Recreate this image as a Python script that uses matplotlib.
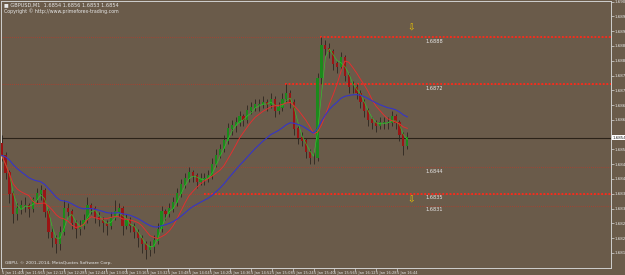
import numpy as np
import pandas as pd
import matplotlib
matplotlib.use('Agg')
import matplotlib.pyplot as plt

# GBPUSD M1 candles (sampled every 3 minutes from 5 Jan 11:40)
closes = [
    1.6848, 1.6842, 1.6835, 1.6828, 1.6830, 1.6831, 1.6831, 1.6830, 1.6833, 1.6835,
    1.6836, 1.6829, 1.6822, 1.6820, 1.6818, 1.6822, 1.6830, 1.6829, 1.6825, 1.6823,
    1.6824, 1.6826, 1.6831, 1.6830, 1.6827, 1.6826, 1.6825, 1.6824, 1.6827, 1.6829,
    1.6830, 1.6824, 1.6826, 1.6824, 1.6822, 1.6820, 1.6818, 1.6816, 1.6817, 1.6819,
    1.6823, 1.6829, 1.6828, 1.6830, 1.6832, 1.6835, 1.6838, 1.6840, 1.6842, 1.6841,
    1.6839, 1.6840, 1.6840, 1.6841, 1.6845, 1.6848, 1.6850, 1.6853, 1.6857, 1.6858,
    1.6859, 1.6861, 1.6860, 1.6863, 1.6864, 1.6865, 1.6865, 1.6866, 1.6865, 1.6867,
    1.6863, 1.6864, 1.6867, 1.6869, 1.6866, 1.6857, 1.6854, 1.6853, 1.6849, 1.6847,
    1.6847, 1.6874, 1.6885, 1.6884, 1.6883, 1.6879, 1.6878, 1.6881, 1.6875, 1.6871,
    1.6871, 1.6869, 1.6866, 1.6863, 1.6860, 1.6859, 1.6858, 1.6859, 1.6859, 1.6859,
    1.6861, 1.6859, 1.6855, 1.6851, 1.6854,
]
highs = [
    1.6855, 1.6849, 1.6843, 1.6836, 1.6832, 1.6833, 1.6834, 1.6832, 1.6834, 1.6837,
    1.6838, 1.6837, 1.6830, 1.6824, 1.6821, 1.6824, 1.6833, 1.6832, 1.6830, 1.6826,
    1.6826, 1.6828, 1.6834, 1.6832, 1.6831, 1.6829, 1.6827, 1.6826, 1.6829, 1.6833,
    1.6832, 1.6831, 1.6828, 1.6827, 1.6825, 1.6823, 1.6821, 1.6819, 1.6819, 1.6821,
    1.6825, 1.6831, 1.6830, 1.6832, 1.6834, 1.6837, 1.6840, 1.6842, 1.6844, 1.6843,
    1.6842, 1.6842, 1.6842, 1.6843, 1.6847, 1.6850, 1.6852, 1.6855, 1.6859, 1.6860,
    1.6861, 1.6863, 1.6862, 1.6865, 1.6866, 1.6867, 1.6867, 1.6868, 1.6867, 1.6869,
    1.6868, 1.6866, 1.6869, 1.6872, 1.6870, 1.6867, 1.6858, 1.6856, 1.6854, 1.6850,
    1.6849, 1.6876, 1.6888, 1.6887, 1.6886, 1.6884, 1.6880, 1.6883, 1.6882, 1.6876,
    1.6873, 1.6872, 1.6870, 1.6867, 1.6864, 1.6861, 1.6860, 1.6861, 1.6861, 1.6861,
    1.6863, 1.6862, 1.6860, 1.6856, 1.6856,
]
lows = [
    1.6846, 1.6840, 1.6832, 1.6825, 1.6826, 1.6828, 1.6829, 1.6827, 1.6829, 1.6832,
    1.6833, 1.6827, 1.6820, 1.6817, 1.6815, 1.6816, 1.6821, 1.6827, 1.6823, 1.6820,
    1.6821, 1.6823, 1.6825, 1.6828, 1.6825, 1.6824, 1.6822, 1.6821, 1.6823, 1.6826,
    1.6827, 1.6821, 1.6823, 1.6822, 1.6820, 1.6817, 1.6815, 1.6813, 1.6814, 1.6815,
    1.6818, 1.6822, 1.6826, 1.6827, 1.6829, 1.6831, 1.6834, 1.6837, 1.6839, 1.6839,
    1.6837, 1.6838, 1.6838, 1.6839, 1.6840, 1.6844, 1.6847, 1.6849, 1.6852, 1.6855,
    1.6856, 1.6858, 1.6858, 1.6859, 1.6862, 1.6863, 1.6863, 1.6864, 1.6863, 1.6864,
    1.6861, 1.6862, 1.6863, 1.6866, 1.6864, 1.6855, 1.6852, 1.6851, 1.6847, 1.6845,
    1.6845, 1.6846, 1.6872, 1.6882, 1.6881, 1.6877, 1.6876, 1.6877, 1.6873, 1.6869,
    1.6869, 1.6867, 1.6864, 1.6861, 1.6858, 1.6857, 1.6856, 1.6857, 1.6857, 1.6857,
    1.6858, 1.6857, 1.6853, 1.6848, 1.6850,
]
first_open = 1.6852
opens = [first_open] + closes[:-1]
bar_minutes = 3

time_labels = ['5 Jan 11:40', '5 Jan 11:56', '5 Jan 12:12', '5 Jan 12:28', '5 Jan 12:44',
               '5 Jan 13:00', '5 Jan 13:16', '5 Jan 13:32', '5 Jan 13:48', '5 Jan 14:04',
               '5 Jan 14:20', '5 Jan 14:36', '5 Jan 14:52', '5 Jan 15:08', '5 Jan 15:24',
               '5 Jan 15:40', '5 Jan 15:56', '5 Jan 16:12', '5 Jan 16:28', '5 Jan 16:44']
label_step = 16

price_ticks = [1.6815, 1.6820, 1.6825, 1.6830, 1.6835, 1.6840, 1.6845, 1.6850,
               1.6860, 1.6865, 1.6870, 1.6875, 1.6880, 1.6885, 1.6890, 1.6895, 1.6900]

levels = [1.6888, 1.6872, 1.6844, 1.6835, 1.6831]
level_labels = ['1.6888', '1.6872', '1.6844', '1.6835', '1.6831']
strong_levels = [1.6888, 1.6872, 1.6835]
strong_start = [245, 218, 156]   # minute where the zone line starts

arrow_prices = [1.6891, 1.6833]
current_price = 1.6854

BG = '#6a5b4a'
FG = '#e6e6e6'

t = np.arange(len(closes)) * bar_minutes
s = pd.Series(closes)
ma_fast = s.rolling(3, min_periods=1).mean()
ma_red = s.rolling(8, min_periods=1).mean()
ma_blue = s.ewm(span=22, adjust=False).mean()

fig = plt.figure(figsize=(6.25, 2.75), dpi=100, facecolor=BG)
ax = fig.add_axes([0.0016, 0.0255, 0.976, 0.9709], facecolor=BG)

# level lines
for lv in levels:
    ax.axhline(lv, color='#b83a2a', lw=0.6, ls=(0, (1, 1.5)), zorder=1)
for lv, st in zip(strong_levels, strong_start):
    ax.hlines(lv, st, 480, color='#ff2a1a', lw=1.3, ls=(0, (1, 1)), zorder=1)

ax.axhline(current_price, color='#2b2218', lw=0.8, zorder=1)

# candles
o = np.array(opens)
c = np.array(closes)
up = c >= o
ax.vlines(t, lows, highs, color='#2c2620', lw=0.6, zorder=2)
ax.bar(t[up], (c - o)[up] + 0.00002, bottom=o[up], width=1.7, color='#1c8a1c', zorder=3)
ax.bar(t[~up], (o - c)[~up] + 0.00002, bottom=c[~up], width=1.7, color='#9a1414', zorder=3)

ax.plot(t, ma_fast, color='#2ccc2c', lw=0.45, zorder=4)
ax.plot(t, ma_red, color='#e03030', lw=0.7, zorder=4)
ax.plot(t, ma_blue, color='#3535c8', lw=0.8, zorder=4)

# labels of levels and arrows
for lv, txt in zip(levels, level_labels):
    ax.annotate(txt, (333, lv), xytext=(0, -1.2), textcoords='offset points',
                ha='center', va='top', fontsize=3.6, color=FG)
for p in arrow_prices:
    ax.text(315, p, '\u21e9', ha='center', va='center', fontsize=6.5, color='#f0c800')

ax.set_xlim(-0.5, 468.7)
ax.set_ylim(1.68099, 1.69002)

ax.yaxis.tick_right()
ax.set_yticks(price_ticks)
ax.set_yticklabels(['%.4f' % v for v in price_ticks])
ax.tick_params(axis='y', colors='#d8d8d8', labelcolor=FG, labelsize=2.9,
               length=2, width=0.5, pad=0.8)
ax.set_xticks(np.arange(len(time_labels)) * label_step)
ax.set_xticklabels(time_labels, ha='left')
ax.tick_params(axis='x', colors='#d8d8d8', labelcolor=FG, labelsize=2.6,
               length=2, width=0.5, pad=0.5)
for sp in ax.spines.values():
    sp.set_color('#cfcfcf')
    sp.set_linewidth(0.7)

ax.annotate('%.4f' % current_price, (1, current_price), xycoords=('axes fraction', 'data'),
            xytext=(1.2, 0), textcoords='offset points', va='center', ha='left',
            fontsize=2.9, color='#202020',
            bbox=dict(boxstyle='square,pad=0.15', fc='white', ec='none'))

fig.text(0.006, 0.993, '\u25a0 GBPUSD,M1  1.6854 1.6856 1.6853 1.6854', fontsize=3.6,
         color=FG, va='top')
fig.text(0.006, 0.968, 'Copyright \u00a9 http://www.primeforex-trading.com', fontsize=3.4,
         color=FG, va='top')
ax.text(0.006, 0.012, 'GBPU, \u00a9 2001-2014, MetaQuotes Software Corp.', transform=ax.transAxes,
        fontsize=3.2, color=FG, va='bottom')

fig.savefig('out.png', dpi=100, facecolor=BG)
